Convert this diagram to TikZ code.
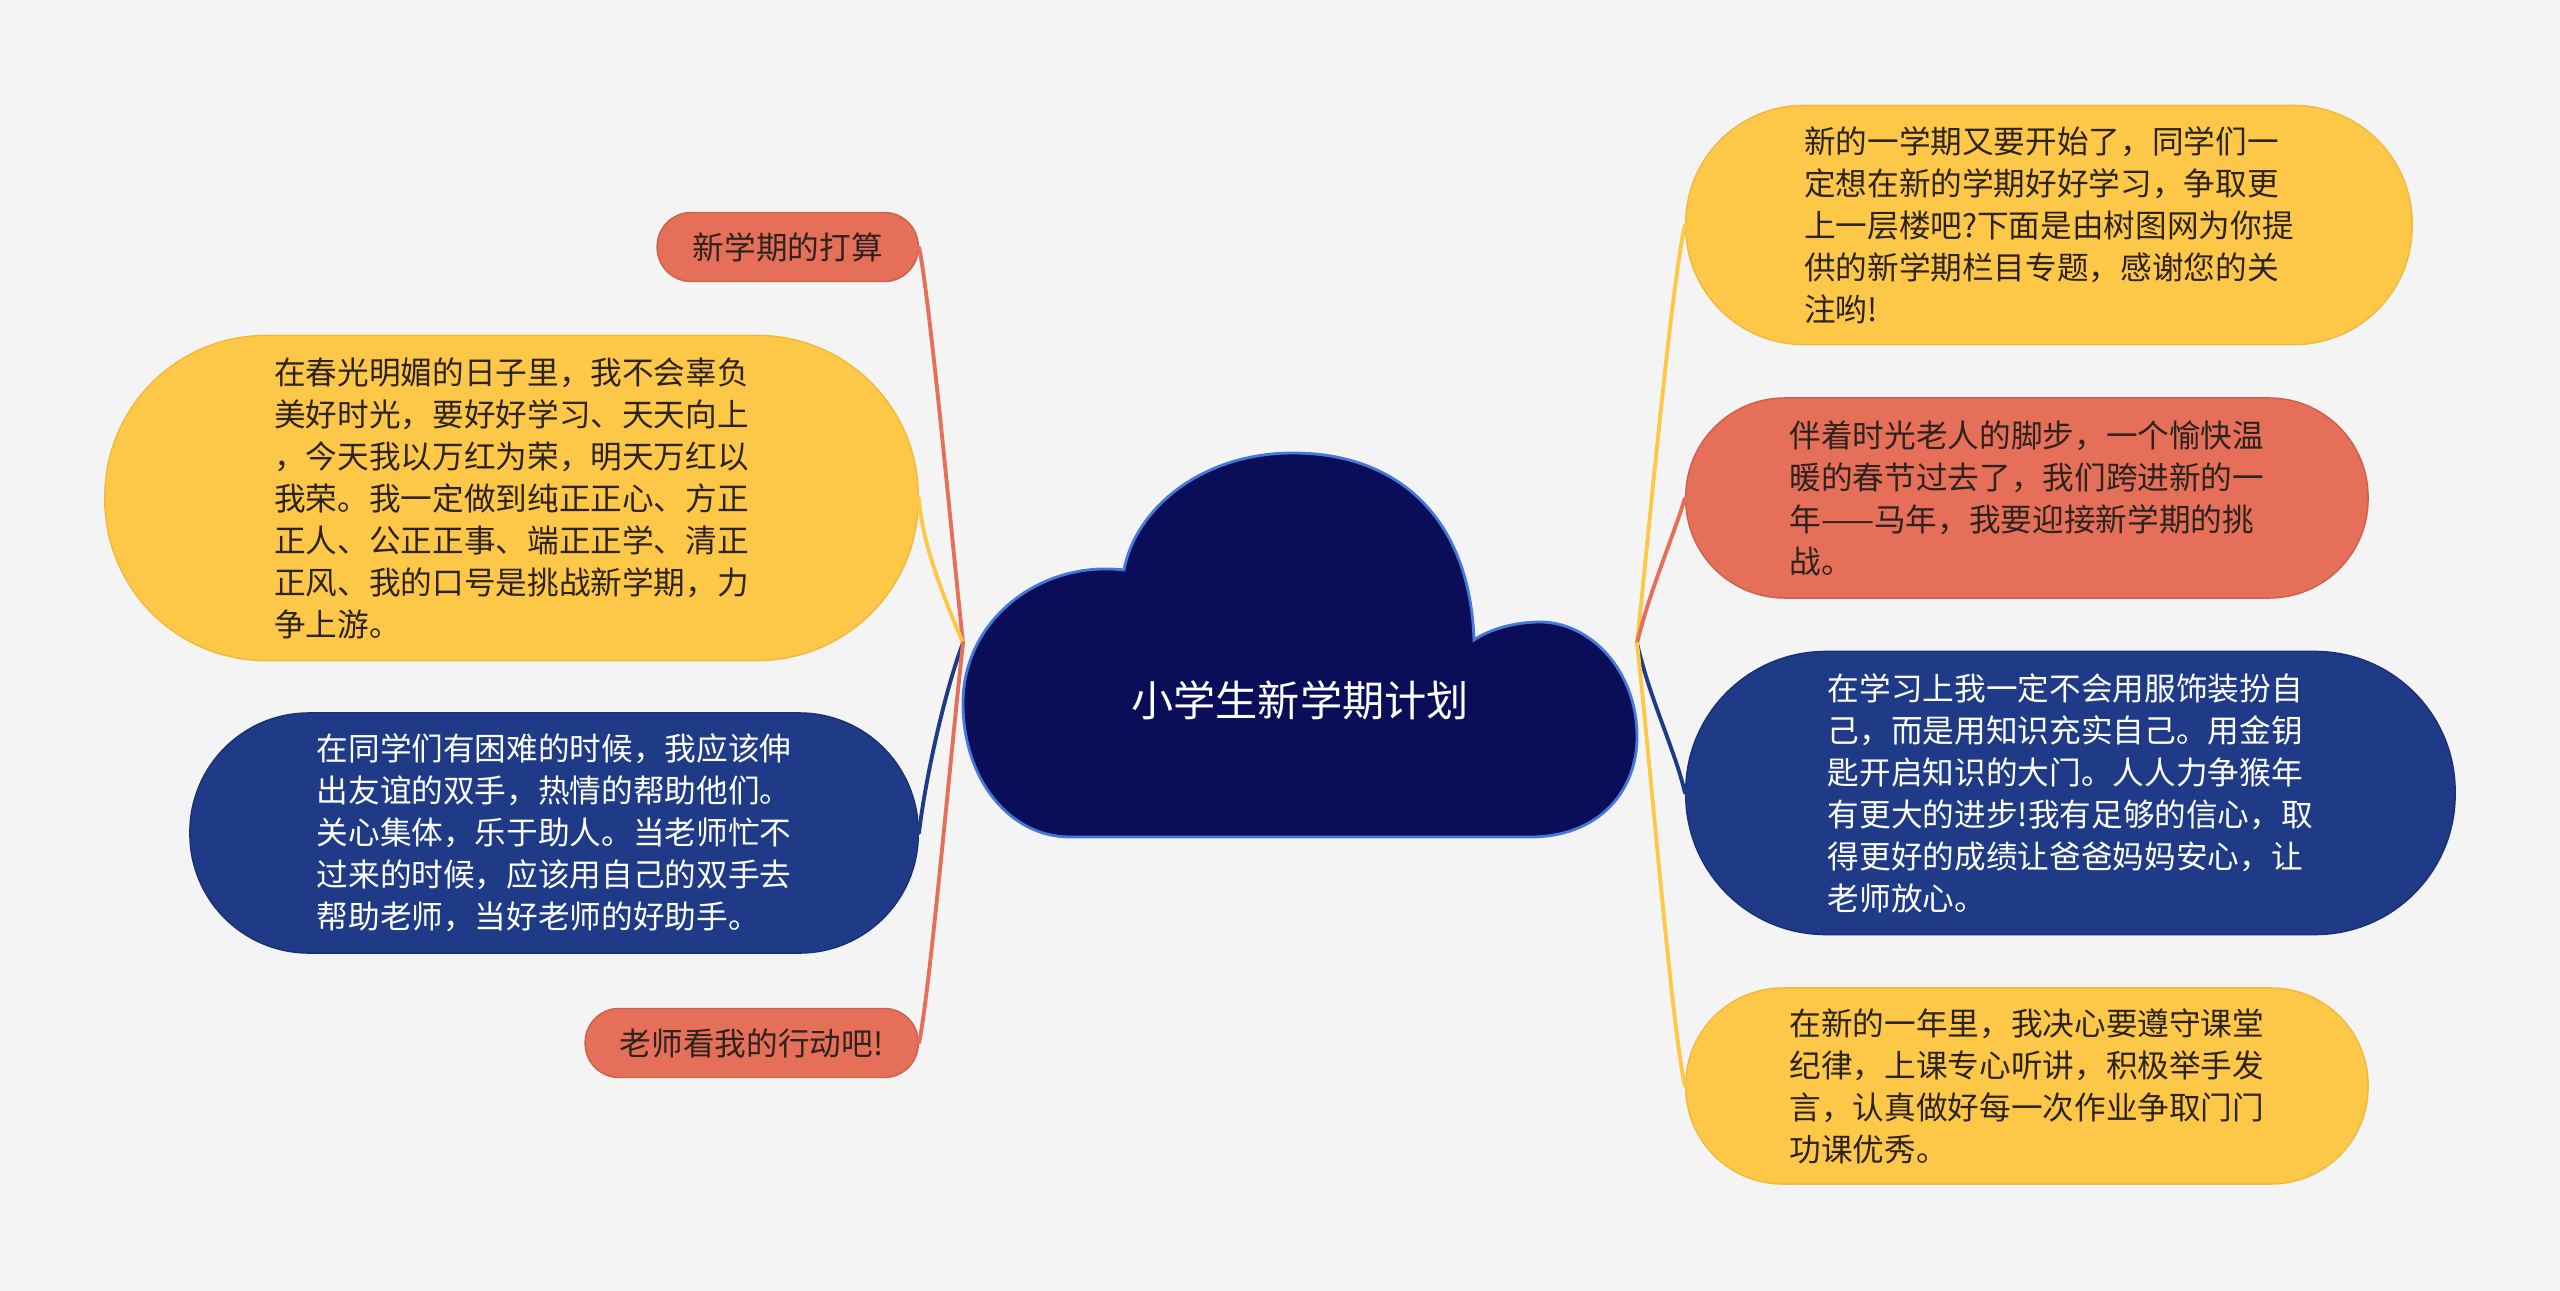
\documentclass[tikz,border=0pt]{standalone}
\usepackage{fontspec}
\setmainfont{Noto Sans CJK SC}
\usepackage{xcolor}
\usepackage{tikz}
\usetikzlibrary{positioning}

\definecolor{bgray}{RGB}{244,244,244}
\definecolor{myyellow}{RGB}{253,200,72}
\definecolor{myyellowd}{RGB}{240,185,60}
\definecolor{myred}{RGB}{229,111,89}
\definecolor{myredd}{RGB}{205,95,75}
\definecolor{myblue}{RGB}{31,59,135}
\definecolor{myblued}{RGB}{25,48,115}
\definecolor{mynavy}{RGB}{10,14,88}
\definecolor{mycloudline}{RGB}{70,120,220}
\definecolor{darktext}{RGB}{45,35,30}

\begin{document}
\begin{tikzpicture}[x=0.01cm, y=-0.01cm,
                    bubble/.style={align=left, inner sep=0pt, line width=0.4pt,
                                   font=\fontsize{9pt}{11.95pt}\selectfont},
                    yellowbox/.style={bubble, fill=myyellow, draw=myyellowd, text=darktext},
                    redbox/.style={bubble, fill=myred, draw=myredd, text=darktext},
                    bluebox/.style={bubble, fill=myblue, draw=myblued, text=white},
                    branch/.style={line width=1.1pt, line cap=round},
                   ]

\useasboundingbox (0,0) rectangle (2560,1291);
\fill[bgray] (0,0) rectangle (2560,1291);

% central cloud
\draw[fill=mynavy, draw=mycloudline, line width=0.8pt]
  (1070,837) -- (1530,837)
  .. controls (1600,837) and (1637,790) .. (1637,737)
  .. controls (1637,670) and (1590,622) .. (1540,622)
  .. controls (1510,622) and (1485,632) .. (1474,640)
  .. controls (1470,520) and (1400,453) .. (1293,453)
  .. controls (1200,453) and (1135,510) .. (1124,570)
  .. controls (1040,560) and (963,620) .. (963,703)
  .. controls (963,780) and (1010,837) .. (1070,837) -- cycle;
\node[text=white, font=\fontsize{12pt}{14pt}\selectfont] (title) at (1300,700) {小学生新学期计划};

\coordinate (hubL) at (963,643);
\coordinate (hubR) at (1637,643);

% right side
\node[yellowbox, anchor=west, minimum width=7.26cm, minimum height=2.39cm, rounded corners=1.18cm]
  (intro) at (1685,225) {新的一学期又要开始了，同学们一\\定想在新的学期好好学习，争取更\\上一层楼吧?下面是由树图网为你提\\供的新学期栏目专题，感谢您的关\\注哟!};
\node[redbox, anchor=west, minimum width=6.82cm, minimum height=2.00cm, rounded corners=0.99cm]
  (festival) at (1685,498) {伴着时光老人的脚步，一个愉快温\\暖的春节过去了，我们跨进新的一\\年——马年，我要迎接新学期的挑\\战。};
\node[bluebox, anchor=west, minimum width=7.69cm, minimum height=2.83cm, rounded corners=1.40cm]
  (study) at (1685,793) {在学习上我一定不会用服饰装扮自\\己，而是用知识充实自己。用金钥\\匙开启知识的大门。人人力争猴年\\有更大的进步!我有足够的信心，取\\得更好的成绩让爸爸妈妈安心，让\\老师放心。};
\node[yellowbox, anchor=west, minimum width=6.82cm, minimum height=1.96cm, rounded corners=0.97cm]
  (discipline) at (1685,1086) {在新的一年里，我决心要遵守课堂\\纪律，上课专心听讲，积极举手发\\言，认真做好每一次作业争取门门\\功课优秀。};

% left side
\node[redbox, anchor=east, minimum width=2.61cm, minimum height=0.69cm, rounded corners=0.34cm]
  (plan) at (919,247) {新学期的打算};
\node[yellowbox, anchor=east, minimum width=8.13cm, minimum height=3.25cm, rounded corners=1.61cm]
  (spring) at (919,498) {在春光明媚的日子里，我不会辜负\\美好时光，要好好学习、天天向上\\，今天我以万红为荣，明天万红以\\我荣。我一定做到纯正正心、方正\\正人、公正正事、端正正学、清正\\正风、我的口号是挑战新学期，力\\争上游。};
\node[bluebox, anchor=east, minimum width=7.28cm, minimum height=2.40cm, rounded corners=1.19cm]
  (helper) at (919,833) {在同学们有困难的时候，我应该伸\\出友谊的双手，热情的帮助他们。\\关心集体，乐于助人。当老师忙不\\过来的时候，应该用自己的双手去\\帮助老师，当好老师的好助手。};
\node[redbox, anchor=east, minimum width=3.33cm, minimum height=0.69cm, rounded corners=0.34cm]
  (action) at (919,1043) {老师看我的行动吧!};

% branches
\draw[branch, myred] (hubL) .. controls (952,540) and (930,300) .. (plan.east);
\draw[branch, myyellow] (hubL) .. controls (945,600) and (922,545) .. (spring.east);
\draw[branch, myblue] (hubL) .. controls (945,690) and (925,780) .. (helper.east);
\draw[branch, myred] (hubL) .. controls (950,760) and (930,990) .. (action.east);

\draw[branch, myyellow] (hubR) .. controls (1650,520) and (1672,280) .. (intro.west);
\draw[branch, myred] (hubR) .. controls (1650,590) and (1672,540) .. (festival.west);
\draw[branch, myblue] (hubR) .. controls (1650,700) and (1675,750) .. (study.west);
\draw[branch, myyellow] (hubR) .. controls (1650,760) and (1672,1030) .. (discipline.west);

\end{tikzpicture}
\end{document}
